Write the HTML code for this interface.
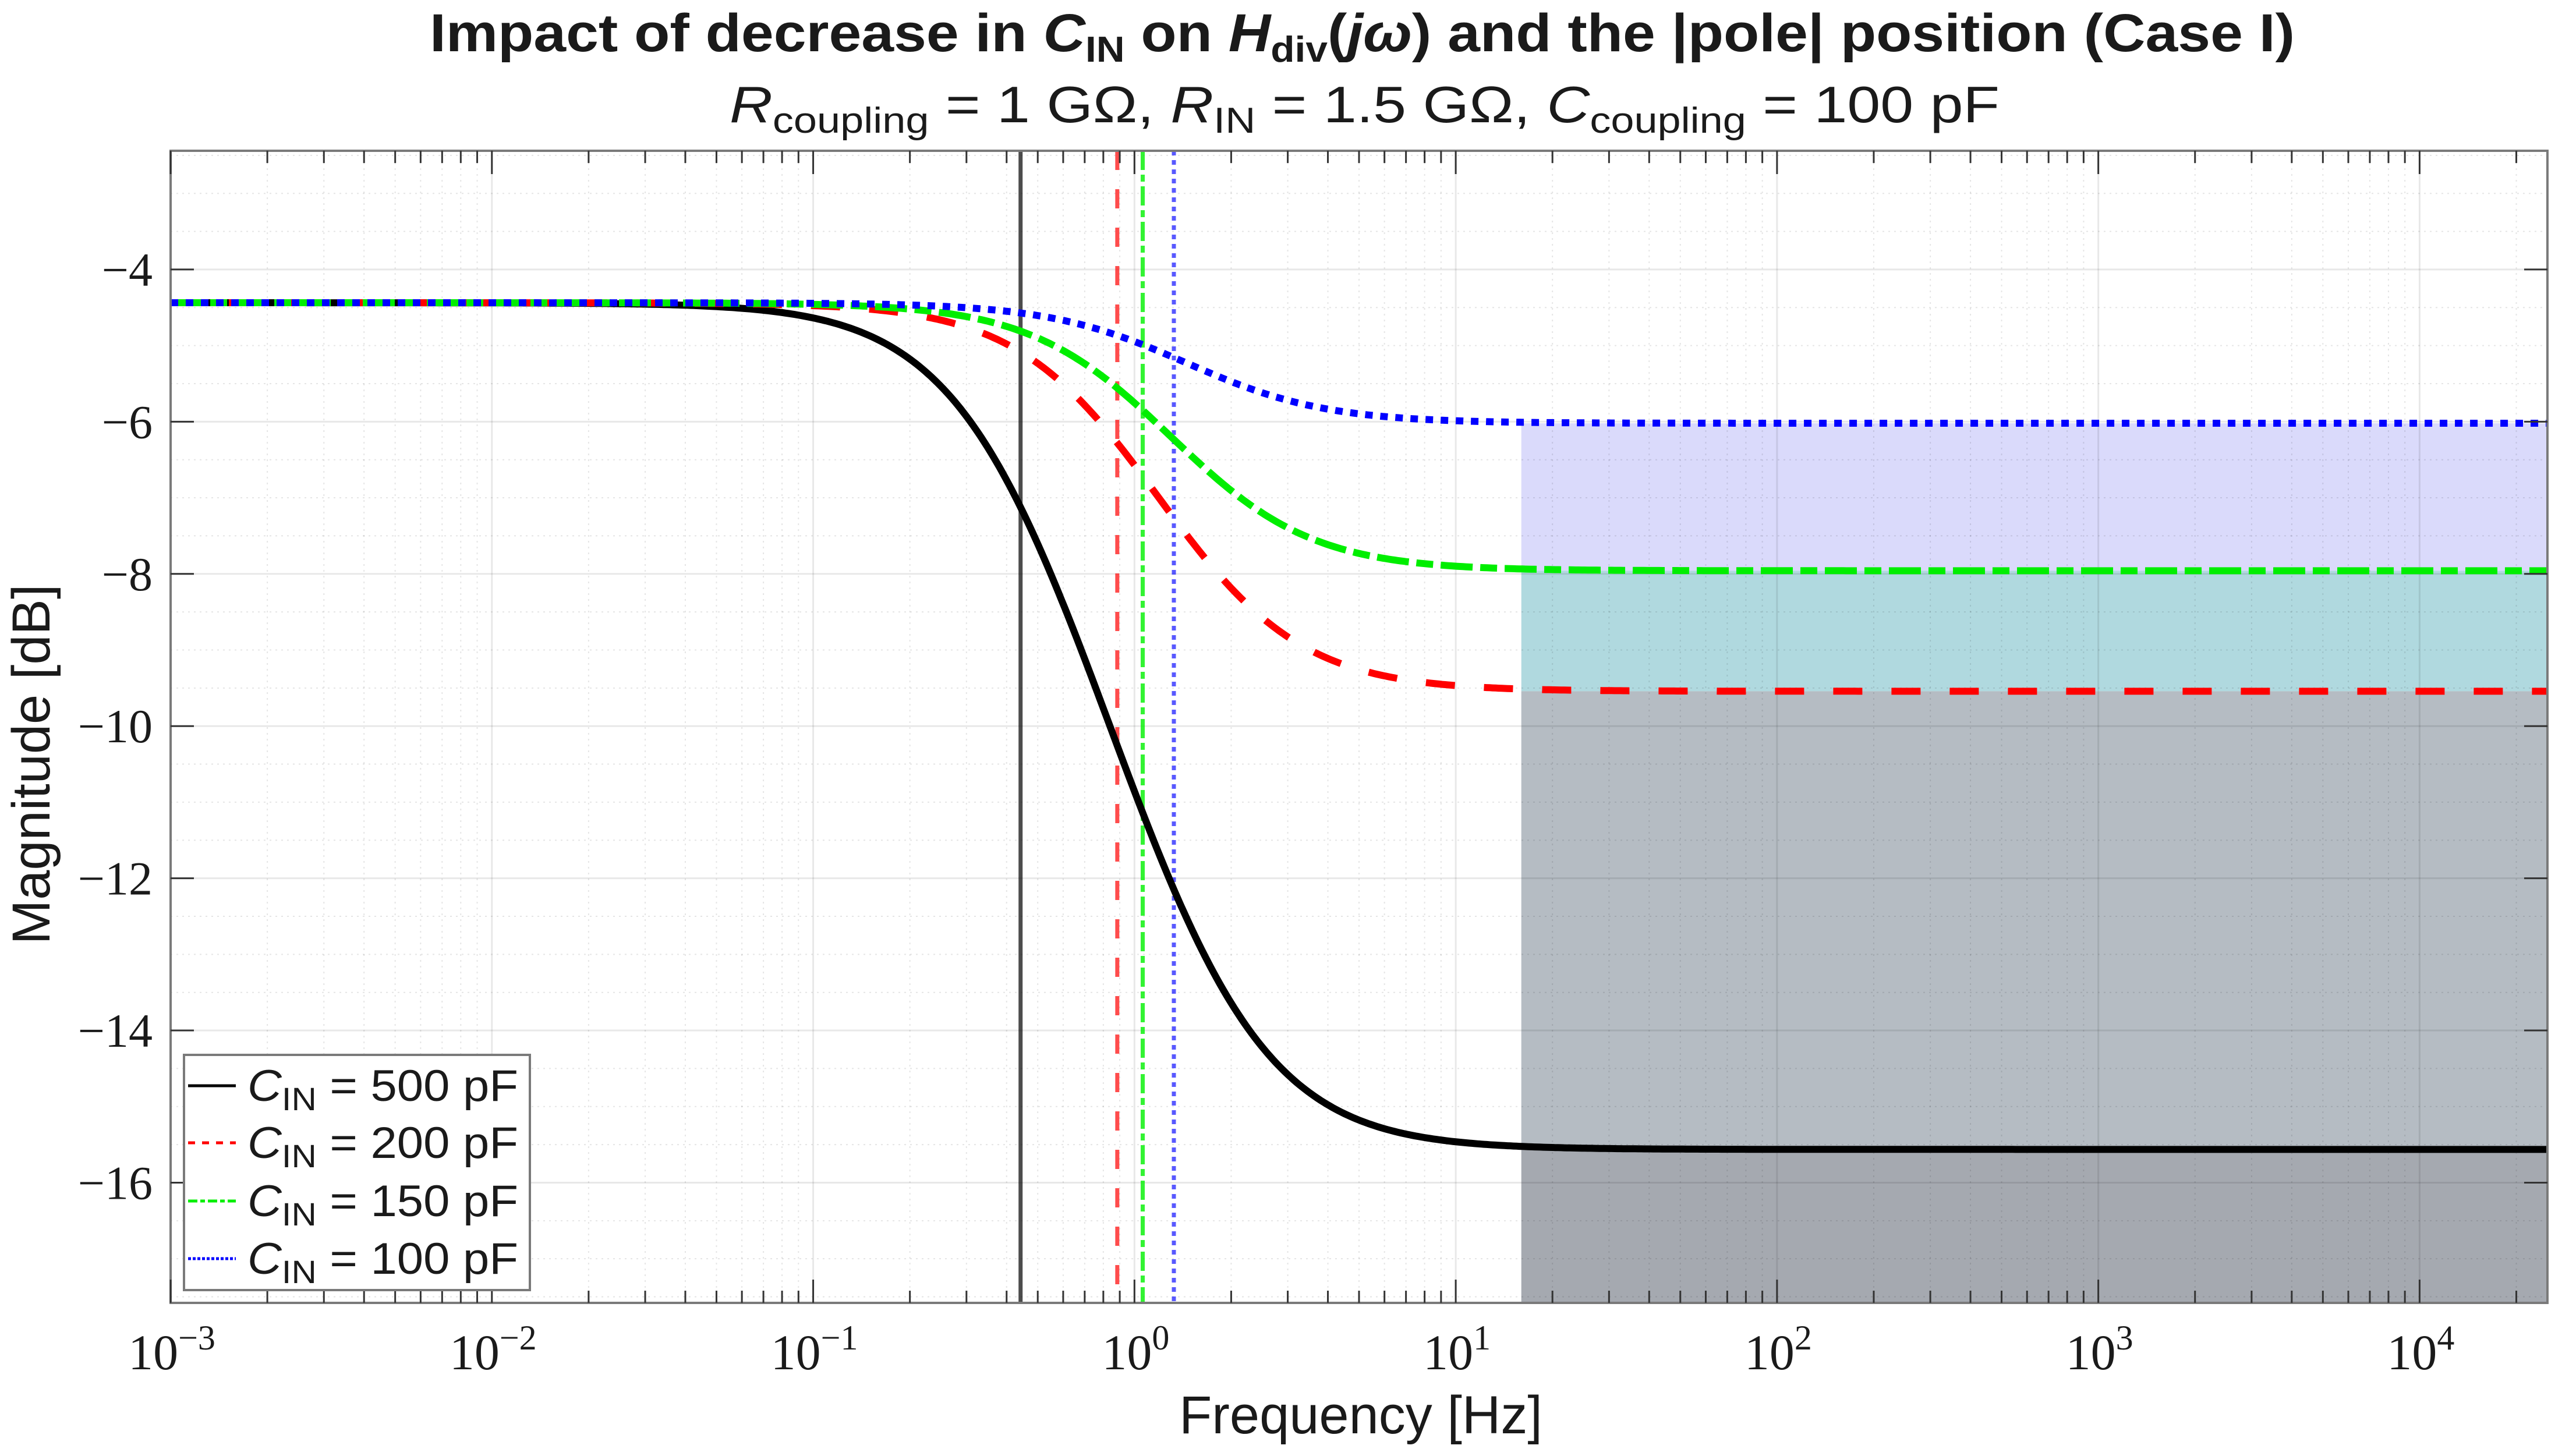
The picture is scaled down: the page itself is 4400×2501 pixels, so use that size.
<!DOCTYPE html>
<html><head><meta charset="utf-8"><style>
html,body{margin:0;padding:0;background:#fff}
svg{display:block}
</style></head><body>
<svg id="chart" xmlns="http://www.w3.org/2000/svg" width="4400" height="2501" viewBox="0 0 4400 2501">
<rect width="4400" height="2501" fill="#fff"/>
<g id="shade"></g>
<g id="grid"></g>
<g id="vlines"></g>
<g id="curves"></g>
<g id="axes"></g>
<g id="legend"></g>
<text x="738" y="88" textLength="3203" lengthAdjust="spacingAndGlyphs" font-family="Liberation Sans, sans-serif" font-weight="bold" font-size="92" fill="#1a1a1a">Impact  of  decrease  in  <tspan font-style="italic">C</tspan><tspan font-size="62" dy="18">IN</tspan><tspan dy="-18">  on  </tspan><tspan font-style="italic">H</tspan><tspan font-size="62" dy="18">div</tspan><tspan dy="-18">(</tspan><tspan font-style="italic">jω</tspan><tspan>)  and  the  |pole|  position  (Case  I)</tspan></text>
<text x="1253" y="210" textLength="2181" lengthAdjust="spacingAndGlyphs" font-family="Liberation Sans, sans-serif" font-size="88" fill="#1a1a1a"><tspan font-style="italic">R</tspan><tspan font-size="62" dy="18">coupling</tspan><tspan dy="-18">  =  1  GΩ,  </tspan><tspan font-style="italic">R</tspan><tspan font-size="62" dy="18">IN</tspan><tspan dy="-18">  =  1.5  GΩ,  </tspan><tspan font-style="italic">C</tspan><tspan font-size="62" dy="18">coupling</tspan><tspan dy="-18">  =  100  pF</tspan></text>
<text x="2337" y="2462" text-anchor="middle" font-family="Liberation Sans, sans-serif" font-size="92" fill="#1a1a1a">Frequency [Hz]</text>
<text transform="translate(85,1313) rotate(-90)" text-anchor="middle" font-family="Liberation Sans, sans-serif" font-size="92" fill="#1a1a1a">Magnitude [dB]</text>
</svg>
<script>
// ---- data ----
const cinValues = [500e-12, 200e-12, 150e-12, 100e-12];
const seriesLabels = ["500", "200", "150", "100"];
const Rcoupling = [1e9];
const Rin = [1.5e9];
const Ccoupling = [100e-12];
const shadeStart = [16];
const xTickExps = [-3, -2, -1, 0, 1, 2, 3, 4];
const yTicks = [-4, -6, -8, -10, -12, -14, -16];
const xDomain = [1e-3, 2.5e4];
const yDomain = [-17.58, -2.44];

// ---- layout ----
const L = 293, R = 4375, T = 259, B = 2238;
const NS = "http://www.w3.org/2000/svg";
const xs = f => L + (Math.log10(f) - Math.log10(xDomain[0])) / (Math.log10(xDomain[1]) - Math.log10(xDomain[0])) * (R - L);
const ys = v => T + (yDomain[1] - v) / (yDomain[1] - yDomain[0]) * (B - T);
function mk(tag, attrs, parent) { const e = document.createElementNS(NS, tag); for (const k in attrs) e.setAttribute(k, attrs[k]); if (parent) parent.appendChild(e); return e; }

const styles = [
  {color: "#000000", dash: "", vcolor: "rgba(0,0,0,0.7)", vdash: ""},
  {color: "#ff0000", dash: "50 50", vcolor: "rgba(255,0,0,0.7)", vdash: "33 33"},
  {color: "#00ee00", dash: "55 13 29 13", vcolor: "rgba(0,240,0,0.8)", vdash: "33 8 12 8"},
  {color: "#0000ff", dash: "13 13", vcolor: "rgba(0,0,255,0.65)", vdash: "8 8"}
];

function magDb(f, cin) {
  const w = 2 * Math.PI * f, rc = Rcoupling[0], ri = Rin[0], cc = Ccoupling[0];
  const nr = 1, ni = w * ri * cin, dr = 1, di = w * rc * cc;
  const den = dr * dr + di * di;
  let qr = (nr * dr + ni * di) / den, qi = (ni * dr - nr * di) / den;
  qr *= rc / ri; qi *= rc / ri;
  const hr = 1 + qr, hi = qi;
  return -10 * Math.log10(hr * hr + hi * hi);
}
function hfAsym(cin) { return 20 * Math.log10(Ccoupling[0] / (Ccoupling[0] + cin)); }
function poleFreq(cin) { const rc = Rcoupling[0], ri = Rin[0]; return (rc + ri) / (rc * ri * (Ccoupling[0] + cin)) / (2 * Math.PI); }

// ---- shading ----
const shade = document.getElementById("shade");
const asyms = cinValues.map(hfAsym).sort((a, b) => b - a);
const bandColors = ["#dadafb", "#b0d9df", "#b5bcc3", "#a5a9b0"];
const sx = xs(shadeStart[0]);
for (let i = 0; i < asyms.length; i++) {
  const top = ys(asyms[i]);
  const bot = i + 1 < asyms.length ? ys(asyms[i + 1]) : B;
  const r = mk("rect", {x: sx, y: top, width: R - sx, height: bot - top, fill: bandColors[i]}, shade);
  
  
}

// ---- grid ----
const grid = document.getElementById("grid");
for (let e = -3; e <= 4; e++) {
  for (let m = 1; m <= 9; m++) {
    const f = m * Math.pow(10, e);
    if (f > xDomain[1]) break;
    const x = xs(f);
    if (m === 1) mk("line", {x1: x, x2: x, y1: T, y2: B, stroke: "rgba(0,0,0,0.09)", "stroke-width": 3}, grid);
    else mk("line", {x1: x, x2: x, y1: T, y2: B, stroke: "rgba(0,0,0,0.1)", "stroke-width": 2, "stroke-dasharray": "3 7"}, grid);
  }
}
for (let v = -17.5; v <= -2.5; v += 0.5) {
  const y = ys(v);
  if (Number.isInteger(v) && v % 2 === 0) mk("line", {x1: L, x2: R, y1: y, y2: y, stroke: "rgba(0,0,0,0.09)", "stroke-width": 3}, grid);
  else mk("line", {x1: L, x2: R, y1: y, y2: y, stroke: "rgba(0,0,0,0.1)", "stroke-width": 2, "stroke-dasharray": "3 7"}, grid);
}

// ---- pole markers ----
const vl = document.getElementById("vlines");
cinValues.forEach((c, i) => {
  const x = xs(poleFreq(c));
  const l = mk("line", {x1: x, x2: x, y1: T, y2: B, stroke: styles[i].vcolor, "stroke-width": 7}, vl);
  if (styles[i].vdash) l.setAttribute("stroke-dasharray", styles[i].vdash);
  
  
});

// ---- curves ----
const cg = document.getElementById("curves");
cinValues.forEach((c, i) => {
  let d = "";
  const n = 800, a = Math.log10(xDomain[0]), b = Math.log10(xDomain[1]);
  for (let k = 0; k <= n; k++) {
    const f = Math.pow(10, a + (b - a) * k / n);
    d += (k ? "L" : "M") + xs(f).toFixed(1) + "," + ys(magDb(f, c)).toFixed(1);
  }
  const p = mk("path", {d: d, fill: "none", stroke: styles[i].color, "stroke-width": 12, "stroke-linejoin": "round"}, cg);
  if (styles[i].dash) p.setAttribute("stroke-dasharray", styles[i].dash);
  
  
});

// ---- axes ----
const ax = document.getElementById("axes");
mk("rect", {x: L, y: T, width: R - L, height: B - T, fill: "none", stroke: "#7a7a7a", "stroke-width": 4}, ax);
for (let e = -3; e <= 4; e++) {
  for (let m = 1; m <= 9; m++) {
    const f = m * Math.pow(10, e); if (f > xDomain[1]) break;
    const x = xs(f), len = m === 1 ? 40 : 21;
    mk("line", {x1: x, x2: x, y1: B, y2: B - len, stroke: "#333", "stroke-width": 3}, ax);
    mk("line", {x1: x, x2: x, y1: T, y2: T + len, stroke: "#333", "stroke-width": 3}, ax);
  }
}
xTickExps.forEach(e => {
  const x = xs(Math.pow(10, e));
  const t = mk("text", {x: x + 2, y: 2352, "text-anchor": "middle", "font-family": "Liberation Serif, serif", "font-size": 86, fill: "#1a1a1a"}, ax);
  
  
  t.appendChild(document.createTextNode("10"));
  const s = mk("tspan", {dy: -34, "font-size": 60}, t);
  s.textContent = (e < 0 ? "−" : "") + Math.abs(e);
});
yTicks.forEach(v => {
  const y = ys(v);
  mk("line", {x1: L, x2: L + 40, y1: y, y2: y, stroke: "#333", "stroke-width": 3}, ax);
  mk("line", {x1: R, x2: R - 40, y1: y, y2: y, stroke: "#333", "stroke-width": 3}, ax);
  const t = mk("text", {x: 262, y: y + 28, "text-anchor": "end", "font-family": "Liberation Serif, serif", "font-size": 82, fill: "#1a1a1a"}, ax);
  
  
  t.textContent = "−" + Math.abs(v);
});

// ---- legend ----
const lg = document.getElementById("legend");
mk("rect", {x: 316, y: 1812, width: 594, height: 404, fill: "#fff", stroke: "#7a7a7a", "stroke-width": 4}, lg);
const rowY = [1865, 1963, 2063, 2162];
cinValues.forEach((c, i) => {
  const y = rowY[i];
  const ln = mk("line", {x1: 323, x2: 405, y1: y, y2: y, stroke: styles[i].color, "stroke-width": 5}, lg);
  const ld = ["", "12 12", "16 5 8 5", "5 3"][i];
  if (ld) ln.setAttribute("stroke-dasharray", ld);
  
  
  const t = mk("text", {x: 425, y: y + 26, textLength: 465, lengthAdjust: "spacingAndGlyphs", "font-family": "Liberation Sans, sans-serif", "font-size": 76, fill: "#1a1a1a"}, lg);
  
  
  const c1 = mk("tspan", {"font-style": "italic"}, t); c1.textContent = "C";
  const c2 = mk("tspan", {"font-size": 56, dy: 16}, t); c2.textContent = "IN";
  const c3 = mk("tspan", {dy: -16}, t); c3.textContent = "  =  " + seriesLabels[i] + "  pF";
});
</script>
</body></html>
